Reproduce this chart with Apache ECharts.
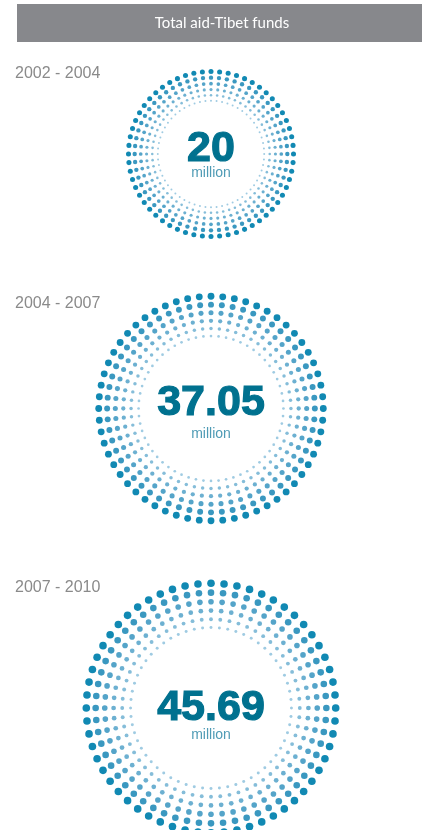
<!DOCTYPE html>
<html>
<head>
<meta charset="utf-8">
<style>
  html, body { margin: 0; padding: 0; background: #ffffff; }
  #chart { width: 422px; height: 830px; }
</style>
<script src="https://cdn.jsdelivr.net/npm/echarts@6/dist/echarts.min.js"></script>
</head>
<body>
<div id="chart"></div>
<script>
// Aid-Tibet funds per period (million)
const heading = 'Total aid-Tibet funds';
const periods = ['2002 - 2004', '2004 - 2007', '2007 - 2010'];
const amounts = [20, 37.05, 45.69];
const amountLabels = ['20', '37.05', '45.69'];
const unitLabel = 'million';

// Dot-ring styling: outer ring first
const ringFractions = [1, 0.925, 0.852, 0.781, 0.712, 0.645];
const ringSizeFactors = [0.061, 0.053, 0.045, 0.038, 0.031, 0.024];
const ringColors = ['#1189b3', '#3a98c0', '#54a4c9', '#6cb0d1', '#85bdd9', '#9fcbe2'];
const dotsPerRing = 60;

// Layout
const centerX = 211;
const centersY = [154, 408.5, 708];
const baseRadius = 82.5;      // outer radius for the first amount
const baseAmount = amounts[0];

const chart = echarts.init(document.getElementById('chart'), null, { renderer: 'canvas' });

const polar = [], angleAxis = [], radiusAxis = [], series = [], graphic = [];

// Header bar
graphic.push({
  type: 'rect', shape: { x: 17, y: 4, width: 405, height: 38 },
  style: { fill: '#87888c' }, silent: true
});
graphic.push({
  type: 'text', x: 222, y: 23,
  style: {
    text: heading, fill: '#ffffff', font: '15px Lato',
    textAlign: 'center', textVerticalAlign: 'middle', verticalAlign: 'middle'
  }, silent: true
});

const labelY = [74, 304, 588];

amounts.forEach((v, i) => {
  // circle area proportional to amount
  const R = baseRadius * Math.sqrt(v / baseAmount);
  polar.push({ center: [centerX, centersY[i]], radius: R });
  angleAxis.push({
    polarIndex: i, type: 'value', min: 0, max: 360, startAngle: 90, clockwise: true,
    show: false, axisLine: { show: false }, splitLine: { show: false }, axisTick: { show: false }, axisLabel: { show: false }
  });
  radiusAxis.push({
    polarIndex: i, type: 'value', min: 0, max: 1,
    show: false, axisLine: { show: false }, splitLine: { show: false }, axisTick: { show: false }, axisLabel: { show: false }
  });

  const data = [];
  ringFractions.forEach((f, k) => {
    for (let j = 0; j < dotsPerRing; j++) {
      data.push({
        value: [f, j * 360 / dotsPerRing],
        symbolSize: Math.max(1.8, ringSizeFactors[k] * R),
        itemStyle: { color: ringColors[k], opacity: 1 }
      });
    }
  });
  series.push({
    type: 'scatter', coordinateSystem: 'polar', polarIndex: i,
    symbol: 'circle', data: data, silent: true, animation: false,
    itemStyle: { opacity: 1 }
  });

  graphic.push({
    type: 'text', x: 15, y: labelY[i],
    style: {
      text: periods[i], fill: '#8a8a8a', font: '16px "Liberation Sans"',
      textAlign: 'left', textVerticalAlign: 'middle', verticalAlign: 'middle'
    }, silent: true
  });
  graphic.push({
    type: 'text', x: centerX, y: centersY[i] - (i === 2 ? 0 : 5),
    style: {
      text: amountLabels[i], fill: '#00718f', font: 'bold 43px "Liberation Sans"',
      stroke: '#00718f', lineWidth: 1.2,
      textAlign: 'center', textVerticalAlign: 'middle', verticalAlign: 'middle'
    }, silent: true
  });
  graphic.push({
    type: 'text', x: centerX, y: centersY[i] + [19, 26, 27][i],
    style: {
      text: unitLabel, fill: '#4f9bb5', font: '14px "Liberation Sans"',
      textAlign: 'center', textVerticalAlign: 'middle', verticalAlign: 'middle'
    }, silent: true
  });
});

chart.setOption({
  animation: false,
  polar: polar,
  angleAxis: angleAxis,
  radiusAxis: radiusAxis,
  series: series,
  graphic: { elements: graphic }
});
</script>
</body>
</html>
